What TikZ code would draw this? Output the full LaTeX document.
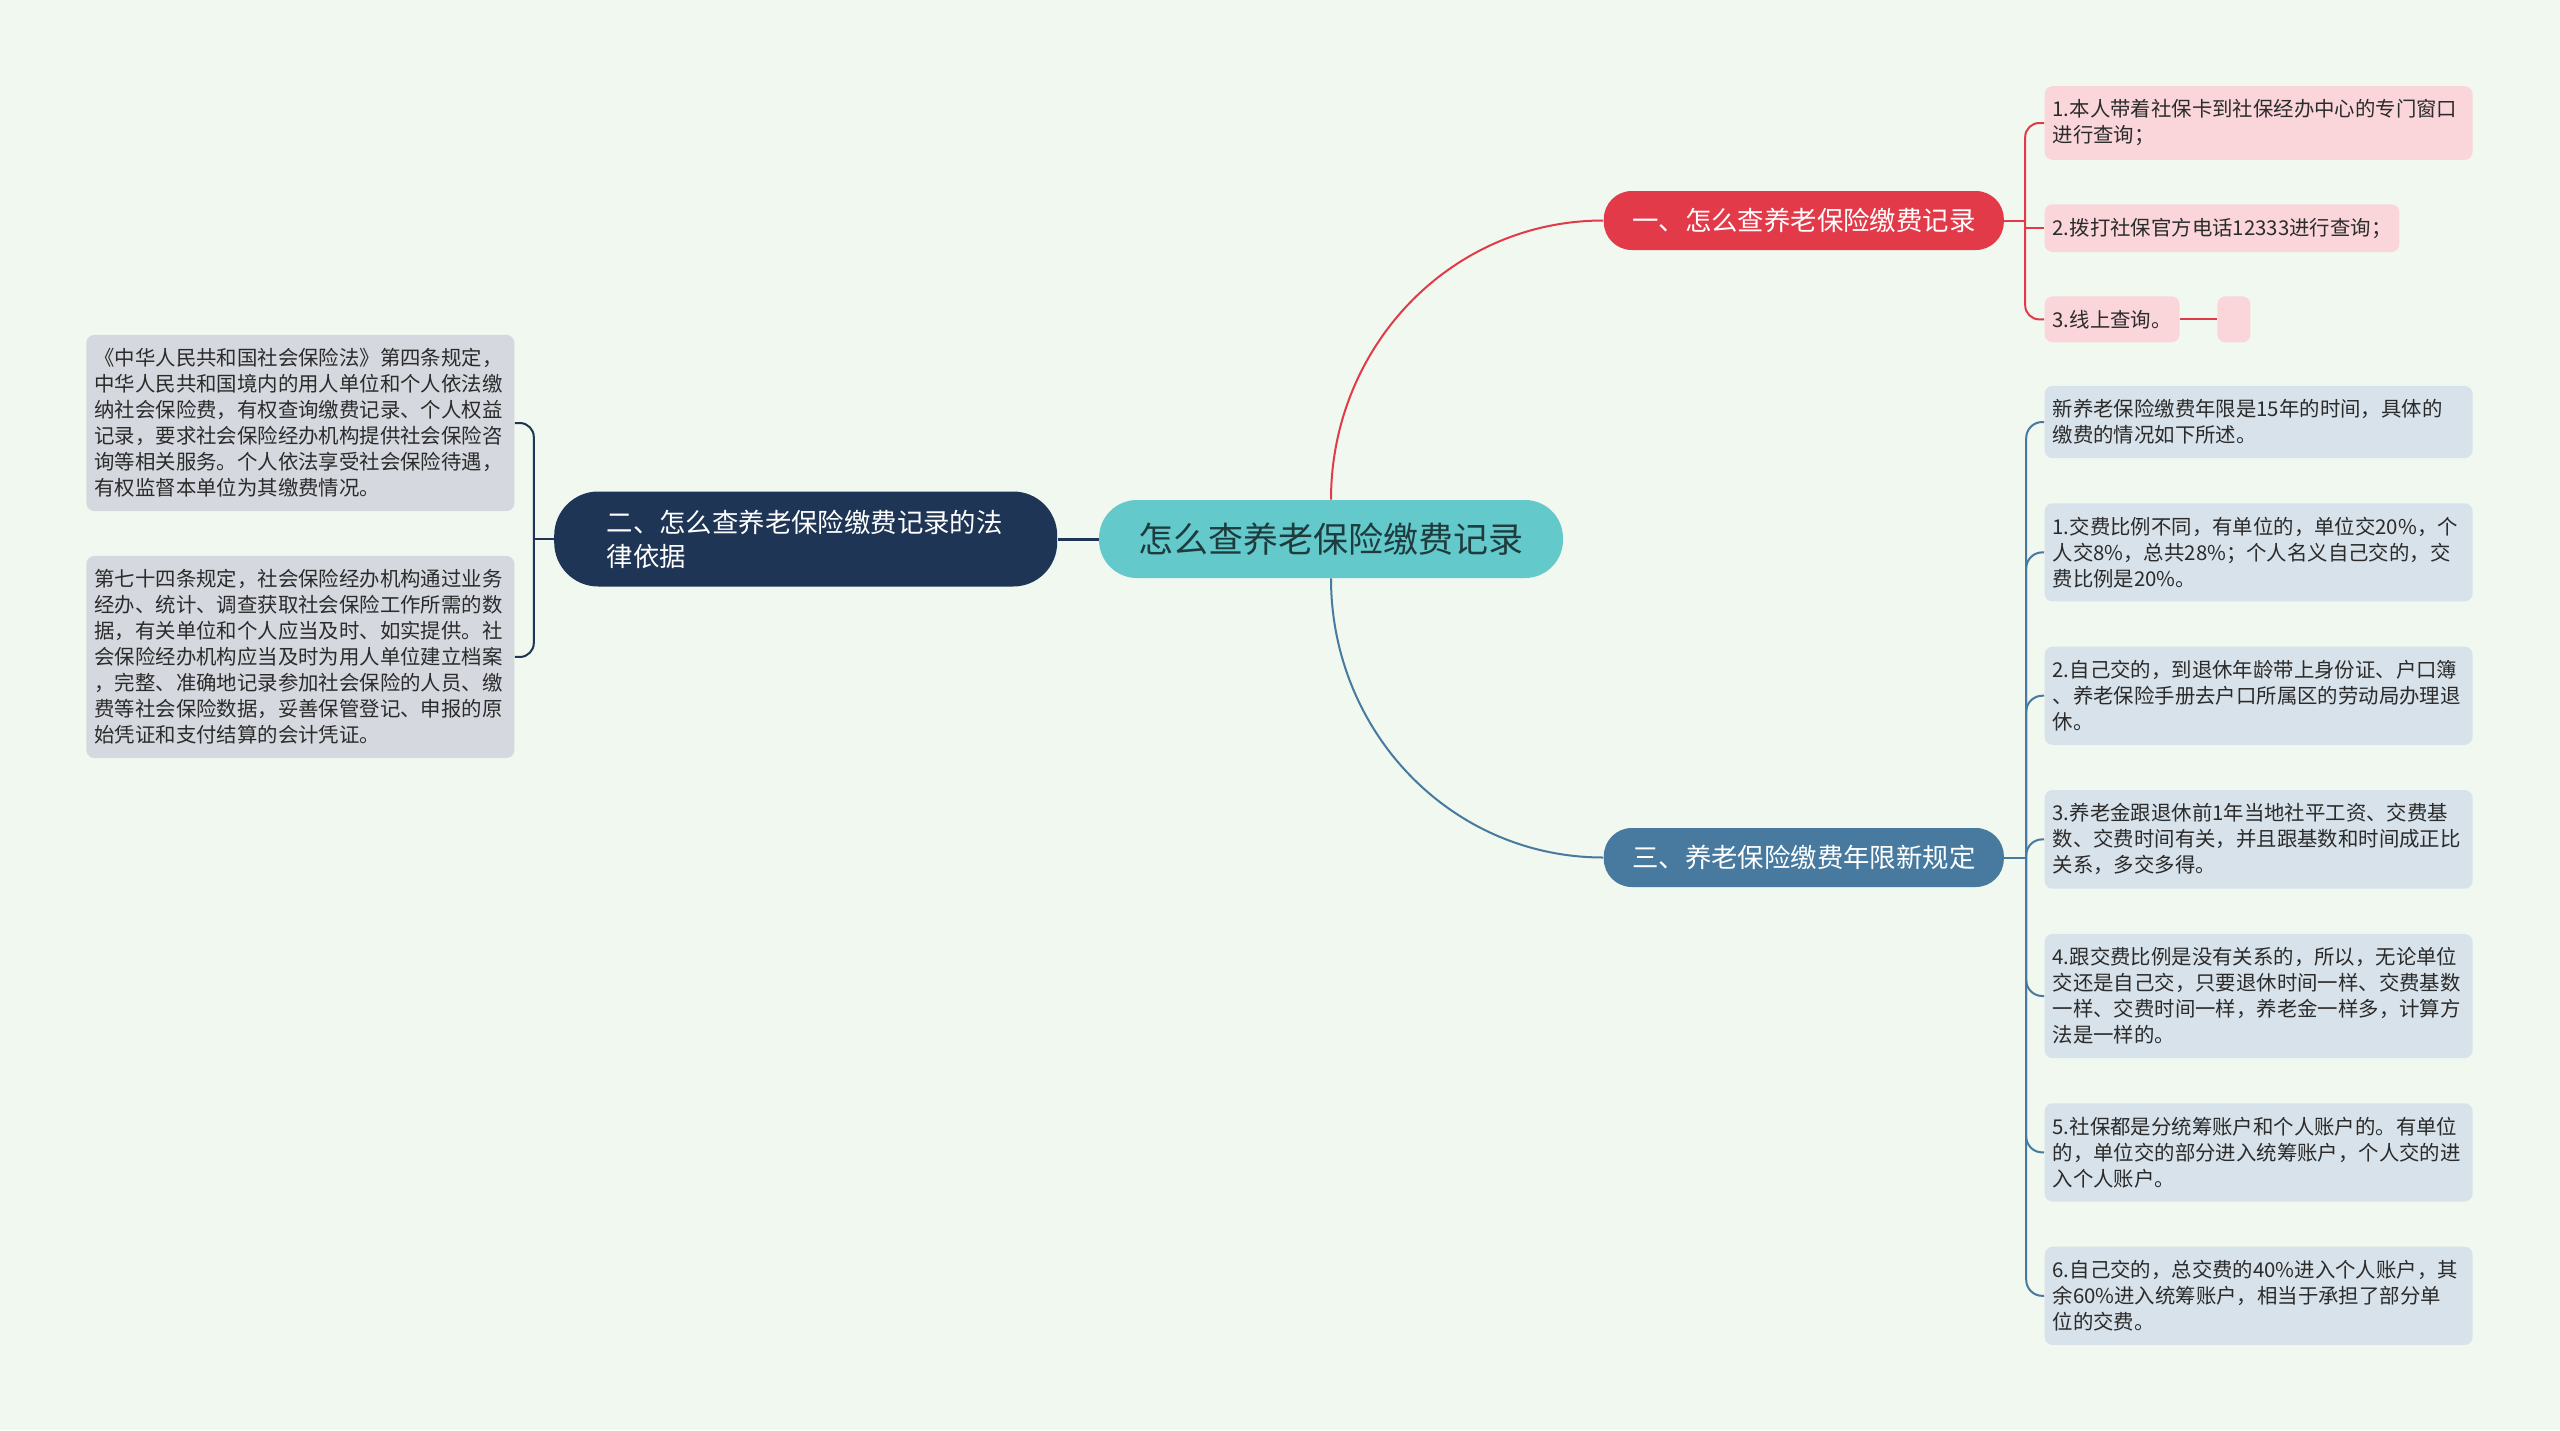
\documentclass[tikz,border=0pt]{standalone}
\usepackage{fontspec}
\newfontfamily\cjk{Noto Sans CJK SC}
\usepackage{xcolor}
\usepackage{tikz}
\usetikzlibrary{positioning}

\definecolor{bgmint}{HTML}{F0F8EF}
\definecolor{rootcol}{HTML}{63C9CB}
\definecolor{roottext}{HTML}{1E3B3E}
\definecolor{navycol}{HTML}{1F3556}
\definecolor{redcol}{HTML}{E33A4A}
\definecolor{redleaf}{HTML}{FAD6DB}
\definecolor{bluecol}{HTML}{477A9E}
\definecolor{blueleaf}{HTML}{D8E2EA}
\definecolor{grayleaf}{HTML}{D5D9DF}
\definecolor{leaftext}{HTML}{2B2B2B}

\begin{document}
\begin{tikzpicture}[
  font=\cjk,
  root/.style={fill=rootcol, text=roottext, rounded corners=19pt, minimum width=232pt, minimum height=39pt,
    font=\cjk\fontsize{17.5}{21}\selectfont},
  branch/.style={text=white, rounded corners=14pt, minimum width=200pt, minimum height=29.5pt,
    font=\cjk\fontsize{13.2}{17}\selectfont},
  leaf/.style={rounded corners=4pt, align=left, text width=206pt, inner xsep=4pt, inner ysep=6.8pt,
    text=leaftext, font=\cjk\fontsize{10.2}{13}\selectfont},
  shortleaf/.style={leaf, text width=, align=center},
  redline/.style={redcol, line width=1pt},
  blueline/.style={bluecol, line width=1pt},
  navyline/.style={navycol, line width=1pt},
]
\useasboundingbox (0,0) rectangle (1280pt,-715pt);
\fill[bgmint] (0,0) rectangle (1280pt,-715pt);

\node[root] (root) at (665.5pt,-269.5pt) {怎么查养老保险缴费记录};

\node[branch, fill=navycol, left=20.5pt of root, minimum width=251.5pt, minimum height=47.5pt, rounded corners=22pt,
  align=left, text width=199pt, inner xsep=26.25pt] (law) {二、怎么查养老保险缴费记录的法\\律依据};
\node[branch, fill=redcol, right=20pt of root, yshift=159.25pt] (query) {一、怎么查养老保险缴费记录};
\node[branch, fill=bluecol, right=20pt of root, yshift=-159.25pt] (years) {三、养老保险缴费年限新规定};

\node[leaf, fill=grayleaf, left=19.5pt of law, yshift=58pt] (law1)
  {《中华人民共和国社会保险法》第四条规定，\\中华人民共和国境内的用人单位和个人依法缴\\纳社会保险费，有权查询缴费记录、个人权益\\记录，要求社会保险经办机构提供社会保险咨\\询等相关服务。个人依法享受社会保险待遇，\\有权监督本单位为其缴费情况。};
\node[leaf, fill=grayleaf, below=22pt of law1] (law2)
  {第七十四条规定，社会保险经办机构通过业务\\经办、统计、调查获取社会保险工作所需的数\\据，有关单位和个人应当及时、如实提供。社\\会保险经办机构应当及时为用人单位建立档案\\，完整、准确地记录参加社会保险的人员、缴\\费等社会保险数据，妥善保管登记、申报的原\\始凭证和支付结算的会计凭证。};

\node[leaf, fill=redleaf, right=20pt of query, yshift=48.75pt] (q1)
  {1.本人带着社保卡到社保经办中心的专门窗口\\进行查询；};
\node[shortleaf, fill=redleaf, below=21.8pt of q1.south west, anchor=north west] (q2)
  {2.拨打社保官方电话12333进行查询；};
\node[shortleaf, fill=redleaf, below=21.8pt of q2.south west, anchor=north west] (q3) {3.线上查询。};
\node[fill=redleaf, rounded corners=4pt, minimum width=16.5pt, minimum height=23pt, inner sep=0pt,
  right=18.5pt of q3] (q3sub) {};

\node[leaf, fill=blueleaf, right=20pt of years, yshift=217.75pt] (y0)
  {新养老保险缴费年限是15年的时间，具体的\\缴费的情况如下所述。};
\node[leaf, fill=blueleaf, below=22.2pt of y0] (y1)
  {1.交费比例不同，有单位的，单位交20\%，个\\人交8\%，总共28\%；个人名义自己交的，交\\费比例是20\%。};
\node[leaf, fill=blueleaf, below=22.2pt of y1] (y2)
  {2.自己交的，到退休年龄带上身份证、户口簿\\、养老保险手册去户口所属区的劳动局办理退\\休。};
\node[leaf, fill=blueleaf, below=22.2pt of y2] (y3)
  {3.养老金跟退休前1年当地社平工资、交费基\\数、交费时间有关，并且跟基数和时间成正比\\关系，多交多得。};
\node[leaf, fill=blueleaf, below=22.2pt of y3] (y4)
  {4.跟交费比例是没有关系的，所以，无论单位\\交还是自己交，只要退休时间一样、交费基数\\一样、交费时间一样，养老金一样多，计算方\\法是一样的。};
\node[leaf, fill=blueleaf, below=22.2pt of y4] (y5)
  {5.社保都是分统筹账户和个人账户的。有单位\\的，单位交的部分进入统筹账户，个人交的进\\入个人账户。};
\node[leaf, fill=blueleaf, below=22.2pt of y5] (y6)
  {6.自己交的，总交费的40\%进入个人账户，其\\余60\%进入统筹账户，相当于承担了部分单\\位的交费。};

\draw[navycol, line width=1.5pt] (root.west) -- (law.east);
\draw[redline] (root.north) to[out=90, in=180] (query.west);
\draw[blueline] (root.south) to[out=-90, in=180] (years.west);

\coordinate (lawhub) at ([xshift=-10pt]law.west);
\draw[navyline] (law.west) -- (lawhub);
\draw[navyline, rounded corners=7pt] (law1.east) -| (lawhub) |- (law2.east);

\coordinate (queryhub) at ([xshift=10.5pt]query.east);
\draw[redline] (query.east) -- (queryhub);
\draw[redline, rounded corners=7pt] (q1.west) -| (queryhub) |- (q3.west);
\draw[redline] (queryhub |- q2.west) -- (q2.west);
\draw[redline] (q3.east) -- (q3sub.west);

\coordinate (yearshub) at ([xshift=11pt]years.east);
\draw[blueline] (years.east) -- (yearshub);
\foreach \leaf in {y0,y1,y2,y3,y4,y5,y6}
  \draw[blueline, rounded corners=8pt] (yearshub) |- (\leaf.west);
\end{tikzpicture}
\end{document}
